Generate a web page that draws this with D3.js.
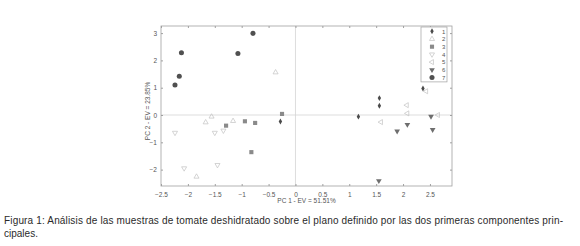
<!DOCTYPE html>
<html>
<head>
<meta charset="utf-8">
<script src="https://cdn.jsdelivr.net/npm/d3@7"></script>
<style>
  body { margin: 0; background: #fff; }
  svg { display: block; }
</style>
</head>
<body>
<svg id="chart" width="580" height="246"></svg>
<script>
// PCA scores: [PC1, PC2] for each sample group
const s1 = [[2.37, 0.97], [1.56, 0.62], [1.56, 0.34], [1.17, -0.06], [-0.28, -0.24]];
const s2 = [[-1.67, -0.27], [-1.56, -0.06], [-1.84, -2.26], [-1.16, -0.22], [-0.37, 1.56]];
const s3 = [[-0.25, 0.04], [-1.29, -0.39], [-0.94, -0.23], [-0.75, -0.29], [-0.82, -1.36]];
const s4 = [[-2.24, -0.65], [-1.50, -0.65], [-1.34, -0.57], [-2.07, -1.95], [-1.45, -1.83]];
const s5 = [[2.43, 0.87], [2.07, 0.36], [2.08, 0.06], [2.65, 0.0], [1.59, -0.26]];
const s6 = [[1.55, -2.41], [1.89, -0.59], [2.08, -0.35], [2.55, -0.54], [2.52, -0.05]];
const s7 = [[-2.24, 1.10], [-2.16, 1.42], [-2.12, 2.28], [-1.07, 2.25], [-0.79, 2.99]];

const seriesNames = ['1', '2', '3', '4', '5', '6', '7'];
const seriesData = [s1, s2, s3, s4, s5, s6, s7];

const xTicks = [-2.5, -2, -1.5, -1, -0.5, 0, 0.5, 1, 1.5, 2, 2.5];
const yTicks = [-2, -1, 0, 1, 2, 3];
const xLabel = 'PC 1 - EV = 51.51%';
const yLabel = 'PC 2 - EV = 23.85%';
const captionLines = [
  'Figura 1: Análisis de las muestras de tomate deshidratado sobre el plano definido por las dos primeras componentes prin-',
  'cipales.'
];

// marker style per series
const styles = [
  {type: d3.symbolDiamond, size: 10, rot: 0, fill: '#4a4a4a', stroke: 'none'},
  {type: d3.symbolTriangle, size: 11, rot: 0, fill: 'none', stroke: '#c2c2c2'},
  {type: d3.symbolSquare, size: 17, rot: 0, fill: '#8a8a8a', stroke: 'none'},
  {type: d3.symbolTriangle, size: 11, rot: 180, fill: 'none', stroke: '#c2c2c2'},
  {type: d3.symbolTriangle, size: 11, rot: -90, fill: 'none', stroke: '#c2c2c2'},
  {type: d3.symbolTriangle, size: 14, rot: 180, fill: '#6e6e6e', stroke: 'none'},
  {type: d3.symbolCircle, size: 20, rot: 0, fill: '#505050', stroke: 'none'}
];

const marginLeft = 161, marginRight = 128, marginTop = 26, marginBottom = 60;
const width = 580, height = 246;

const x = d3.scaleLinear().domain([-2.5, 2.91]).range([marginLeft, width - marginRight]);
const y = d3.scaleLinear().domain([-2.6, 3.26]).range([height - marginBottom, marginTop]);

const svg = d3.select('#chart');
const font = 'Liberation Sans, Arial, sans-serif';
const axisColor = '#a0a0a0';

// zero lines
svg.append('line')
  .attr('x1', x(0)).attr('x2', x(0))
  .attr('y1', y.range()[1]).attr('y2', y.range()[0])
  .attr('stroke', '#d4d4d4').attr('stroke-width', 0.8);
svg.append('line')
  .attr('x1', x.range()[0]).attr('x2', x.range()[1])
  .attr('y1', y(0)).attr('y2', y(0))
  .attr('stroke', '#d4d4d4').attr('stroke-width', 0.8);

// axes (box with inward ticks)
const xAxis = d3.axisBottom(x).tickValues(xTicks).tickSize(-2).tickPadding(6).tickFormat(d3.format(''));
const yAxis = d3.axisLeft(y).tickValues(yTicks).tickSize(-2).tickPadding(4).tickFormat(d3.format(''));

svg.append('g')
  .attr('transform', `translate(0,${y.range()[0]})`)
  .call(xAxis)
  .call(g => g.select('.domain').remove())
  .call(g => g.selectAll('.tick line').attr('stroke', axisColor))
  .call(g => g.selectAll('.tick text').attr('fill', '#555').style('font', `6.5px ${font}`));

svg.append('g')
  .attr('transform', `translate(0,${y.range()[1]})`)
  .call(d3.axisTop(x).tickValues(xTicks).tickSize(-2).tickFormat(''))
  .call(g => g.select('.domain').remove())
  .call(g => g.selectAll('.tick line').attr('stroke', axisColor));

svg.append('g')
  .attr('transform', `translate(${x.range()[0]},0)`)
  .call(yAxis)
  .call(g => g.select('.domain').remove())
  .call(g => g.selectAll('.tick line').attr('stroke', axisColor))
  .call(g => g.selectAll('.tick text').attr('fill', '#555').style('font', `6.5px ${font}`));

svg.append('g')
  .attr('transform', `translate(${x.range()[1]},0)`)
  .call(d3.axisRight(y).tickValues(yTicks).tickSize(-2).tickFormat(''))
  .call(g => g.select('.domain').remove())
  .call(g => g.selectAll('.tick line').attr('stroke', axisColor));

svg.append('rect')
  .attr('x', x.range()[0]).attr('y', y.range()[1])
  .attr('width', x.range()[1] - x.range()[0])
  .attr('height', y.range()[0] - y.range()[1])
  .attr('fill', 'none').attr('stroke', axisColor).attr('stroke-width', 0.8);

// axis labels
svg.append('text')
  .attr('x', (x.range()[0] + x.range()[1]) / 2)
  .attr('y', y.range()[0] + 17)
  .attr('text-anchor', 'middle')
  .attr('fill', '#555')
  .style('font', `6.5px ${font}`)
  .text(xLabel);

svg.append('text')
  .attr('transform', `translate(${x.range()[0] - 11},${(y.range()[0] + y.range()[1]) / 2 + 5}) rotate(-90)`)
  .attr('text-anchor', 'middle')
  .attr('fill', '#555')
  .style('font', `6.5px ${font}`)
  .text(yLabel);

// points
const symbol = d3.symbol();
seriesData.forEach((pts, i) => {
  const st = styles[i];
  svg.append('g')
    .selectAll('path')
    .data(pts)
    .join('path')
      .attr('transform', d => `translate(${x(d[0])},${y(d[1])}) rotate(${st.rot})`)
      .attr('d', symbol.type(st.type).size(st.size)())
      .attr('fill', st.fill)
      .attr('stroke', st.stroke)
      .attr('stroke-width', 0.7);
});

// legend
const legendX = 421, legendY = 27, legendW = 26, rowH = 7.7;
const legend = svg.append('g');
legend.append('rect')
  .attr('x', legendX).attr('y', legendY)
  .attr('width', legendW).attr('height', rowH * seriesNames.length + 1)
  .attr('fill', '#fff').attr('stroke', axisColor).attr('stroke-width', 0.7);

const rows = legend.selectAll('g.row')
  .data(seriesNames)
  .join('g')
    .attr('class', 'row')
    .attr('transform', (d, i) => `translate(${legendX},${legendY + 4.3 + i * rowH})`);

rows.append('path')
  .attr('transform', (d, i) => `translate(11,0) rotate(${styles[i].rot})`)
  .attr('d', (d, i) => symbol.type(styles[i].type).size(styles[i].size)())
  .attr('fill', (d, i) => styles[i].fill)
  .attr('stroke', (d, i) => styles[i].stroke)
  .attr('stroke-width', 0.7);

rows.append('text')
  .attr('x', 21)
  .attr('y', 2.2)
  .attr('fill', '#555')
  .style('font', `6px ${font}`)
  .text(d => d);

// caption
svg.append('g')
  .selectAll('text')
  .data(captionLines)
  .join('text')
    .attr('x', 4)
    .attr('y', (d, i) => 224 + i * 13)
    .attr('fill', '#2a2a2a')
    .attr('textLength', (d, i) => i === 0 ? 559 : null)
    .attr('lengthAdjust', 'spacing')
    .style('font', `10px ${font}`)
    .text(d => d);
</script>
</body>
</html>
